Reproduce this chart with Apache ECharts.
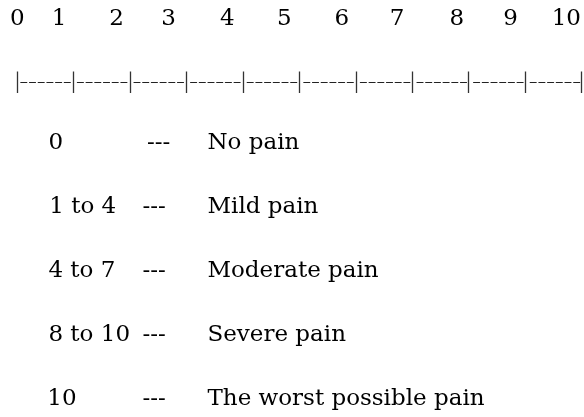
<!DOCTYPE html>
<html>
<head>
<meta charset="utf-8">
<script src="https://cdn.jsdelivr.net/npm/echarts@6/dist/echarts.min.js"></script>
<style>
  html, body { margin: 0; padding: 0; background: #fff; }
  #chart { width: 584px; height: 417px; }
</style>
</head>
<body>
<div id="chart"></div>
<script>
// scale 0..10 and its labels
const scaleTicks = ['0', '1', '2', '3', '4', '5', '6', '7', '8', '9', '10'];
// legend rows
const rangeLabels = ['0', '1 to 4', '4 to 7', '8 to 10', '10'];
const separators = ['---', '---', '---', '---', '---'];
const descriptions = ['No pain', 'Mild pain', 'Moderate pain', 'Severe pain', 'The worst possible pain'];

// layout: where the top numbers sit on the 0..10 scale (they are a bit off the bars)
const labelPos = [0, 0.74, 1.76, 2.68, 3.72, 4.73, 5.75, 6.73, 7.79, 8.74, 9.73];
// column starts for the legend rows, in scale units
const rangeCol = [0.55, 0.565, 0.55, 0.55, 0.53];
const sepCol = [2.29, 2.21, 2.21, 2.21, 2.21];
const descCol = 3.36;

const font = 'DejaVu Serif';
const textColor = '#000';

let myChart = echarts.init(document.getElementById('chart'));

function rowSeries(name, cols, texts) {
    return {
        name: name,
        type: 'scatter',
        xAxisIndex: 2,
        yAxisIndex: 1,
        symbolSize: 0,
        silent: true,
        itemStyle: { opacity: 1 },
        data: texts.map(function (t, i) {
            return [Array.isArray(cols) ? cols[i] : cols, i];
        }),
        label: {
            show: true,
            position: 'right',
            distance: 0,
            opacity: 1,
            fontFamily: font,
            fontSize: 23,
            color: textColor,
            formatter: function (p) { return texts[p.dataIndex]; }
        }
    };
}

let option = {
    backgroundColor: '#fff',
    animation: false,
    grid: [
        // ruler
        { left: 17.3, right: 0.7, top: 71.5, height: 10.5 },
        // legend rows
        { left: 17.3, right: 0.7, top: 143, bottom: 18 }
    ],
    xAxis: [{
        // numbers above the ruler
        gridIndex: 0,
        type: 'value',
        position: 'top',
        min: 0,
        max: 10,
        axisLine: { show: false },
        axisTick: { show: false },
        splitLine: { show: false },
        axisLabel: {
            customValues: labelPos,
            margin: 52,
            verticalAlign: 'middle',
            fontFamily: font,
            fontSize: 23,
            color: textColor,
            formatter: function (v) {
                let i = labelPos.indexOf(v);
                return i >= 0 ? scaleTicks[i] : '';
            }
        }
    }, {
        // the dashed ruler itself
        gridIndex: 0,
        type: 'value',
        position: 'bottom',
        min: 0,
        max: 10,
        interval: 1,
        axisLine: {
            show: true,
            lineStyle: {
                color: '#222',
                width: 1.2,
                type: [6, 2.7, 6, 2.7, 6, 2.7, 6, 2.7, 6, 2.7, 6, 7.1],
                dashOffset: 53.1
            }
        },
        axisTick: { show: true, length: 11, lineStyle: { color: '#333', width: 1.3 } },
        splitLine: { show: true, showMinLine: true, showMaxLine: true, lineStyle: { color: '#333', width: 1.3 } },
        axisLabel: { show: false }
    }, {
        gridIndex: 1,
        type: 'value',
        min: 0,
        max: 10,
        show: false
    }],
    yAxis: [{
        gridIndex: 0,
        type: 'value',
        show: false
    }, {
        gridIndex: 1,
        type: 'category',
        data: rangeLabels,
        inverse: true,
        boundaryGap: false,
        show: false
    }],
    series: [
        rowSeries('range', rangeCol, rangeLabels),
        rowSeries('sep', sepCol, separators),
        rowSeries('desc', descCol, descriptions)
    ]
};
myChart.setOption(option);
</script>
</body>
</html>
